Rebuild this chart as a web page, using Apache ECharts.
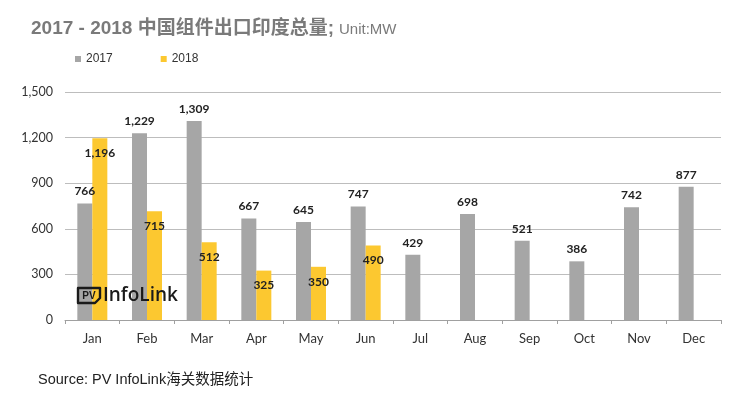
<!DOCTYPE html>
<html>
<head>
<meta charset="utf-8">
<script src="https://cdn.jsdelivr.net/npm/echarts@6/dist/echarts.min.js"></script>
<style>html,body{margin:0;padding:0;background:#fff;}#c{width:742px;height:412px;}</style>
</head>
<body>
<div id="c"></div>
<script>
var months = ['Jan','Feb','Mar','Apr','May','Jun','Jul','Aug','Sep','Oct','Nov','Dec'];
var values2017 = [766,1229,1309,667,645,747,429,698,521,386,742,877];
var values2018 = [1196,715,512,325,350,490,null,null,null,null,null,null];
var yTicks = [0,300,600,900,1200,1500];

var fmt = function(v){ return Number(v).toLocaleString('en-US'); };
var chart = echarts.init(document.getElementById('c'));
chart.setOption({
  animation:false,
  backgroundColor:'#fff',
  title:{
    text:'{b|2017 - 2018 中国组件出口印度总量;} {u|Unit:MW}',
    left:26, top:14,
    textStyle:{rich:{
      b:{fontSize:19,fontWeight:'bold',color:'#7a7a7a',fontFamily:'Liberation Sans, Noto Sans CJK SC, sans-serif'},
      u:{fontSize:15,fontWeight:'normal',color:'#7a7a7a',fontFamily:'Liberation Sans, sans-serif',padding:[3,0,0,0]}
    }}
  },
  legend:{
    left:70, top:48, itemWidth:6, itemHeight:6, itemGap:48, icon:'rect',
    textStyle:{fontSize:12,color:'#333',fontFamily:'Liberation Sans, sans-serif'},
    data:['2017','2018']
  },
  grid:{left:65,right:21,top:92,bottom:92},
  xAxis:{
    type:'category', data:months,
    axisLine:{lineStyle:{color:'#a0a0a0'}},
    axisTick:{show:true,length:4,lineStyle:{color:'#a0a0a0'}},
    axisLabel:{fontSize:13,color:'#333',margin:12,fontFamily:'Lato, sans-serif'}
  },
  yAxis:{
    type:'value', min:yTicks[0], max:yTicks[yTicks.length-1], interval:300,
    axisLine:{show:false}, axisTick:{show:false},
    splitLine:{lineStyle:{color:'#bdbdbd'}},
    axisLabel:{fontSize:12.5,color:'#333',margin:12,fontFamily:'Lato, sans-serif',formatter:fmt}
  },
  series:[
    {name:'2017',type:'bar',data:values2017,barWidth:15,barGap:'0%',
     itemStyle:{color:'#a6a6a6'},
     label:{show:true,position:'top',distance:6,fontSize:12,fontWeight:'bold',color:'#222',fontFamily:'Lato, sans-serif',
       formatter:function(p){return fmt(p.value);}}},
    {name:'2018',type:'bar',data:values2018,barWidth:15,barGap:'0%',
     itemStyle:{color:'#fcc830'},
     label:{show:true,position:'insideTop',distance:9,fontSize:12,fontWeight:'bold',color:'#222',fontFamily:'Lato, sans-serif',
       formatter:function(p){return p.value==null?'':fmt(p.value);}}}
  ],
  graphic:[
    {type:'polygon',shape:{points:[[78,288],[100,288],[100,298],[95,303],[78,303]]},style:{fill:'rgba(0,0,0,0)',stroke:'#1a1a1a',lineWidth:2.4,lineJoin:'round'},z:100},
    {type:'text',x:89,y:296,style:{text:'PV',font:'bold 10px Liberation Sans',fill:'#1a1a1a',align:'center',verticalAlign:'middle'},z:100},
    {type:'text',x:103,y:296,style:{text:'InfoLink',font:'600 19px Open Sans',fill:'#1a1a1a',align:'left',verticalAlign:'middle'},z:100},
    {type:'text',x:38,y:380,style:{text:'Source: PV InfoLink海关数据统计',font:'14.5px Liberation Sans, Noto Sans CJK SC',fill:'#222',align:'left',verticalAlign:'middle'}}
  ]
});
</script>
</body>
</html>
